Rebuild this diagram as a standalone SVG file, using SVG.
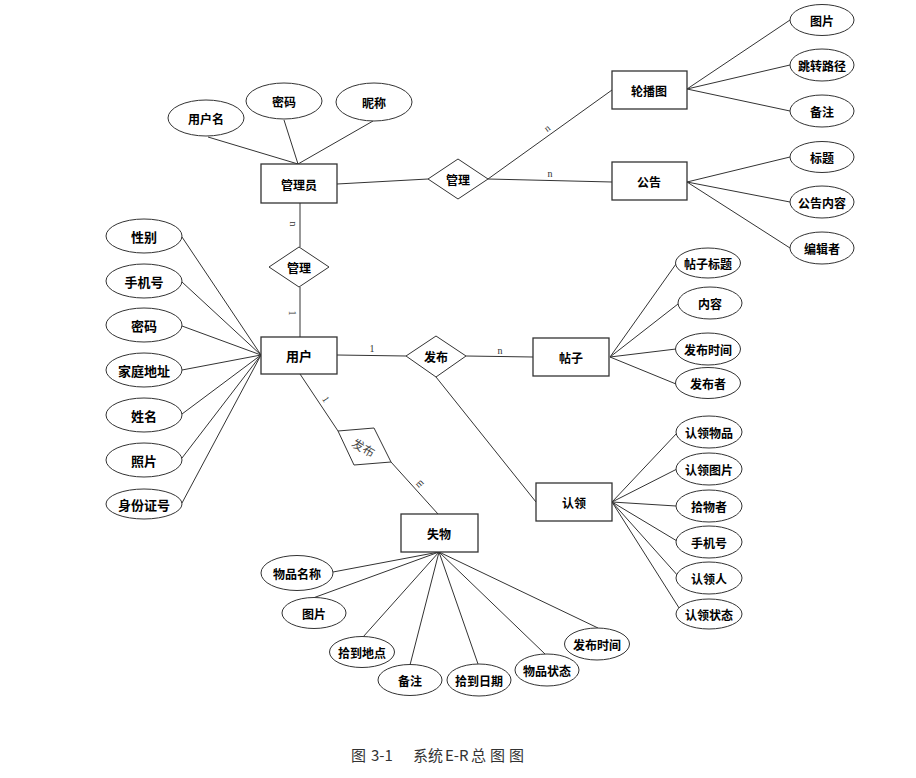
<svg xmlns="http://www.w3.org/2000/svg" width="916" height="778" viewBox="0 0 916 778">
<style>
.bg{fill:#fff}
.ln{stroke:#333;stroke-width:1;fill:none}
.ent{fill:#fff;stroke:#333;stroke-width:1.3}
.att{fill:#fff;stroke:#333;stroke-width:1}
.rel{fill:#fff;stroke:#333;stroke-width:1}
.t{font-family:"Noto Sans CJK SC","Noto Sans",sans-serif;font-weight:bold;font-size:12px;fill:#000;text-anchor:middle;dominant-baseline:central}
.tl{font-size:13px}
.card{font-family:"Liberation Serif",serif;font-size:10px;fill:#333;text-anchor:middle;dominant-baseline:central}
.rt{font-family:"Noto Sans CJK SC",sans-serif;font-size:12px;fill:#444;text-anchor:middle;dominant-baseline:central}
.cap{font-family:"Noto Sans CJK SC","Liberation Sans",sans-serif;font-size:15px;fill:#333}
</style>
<rect class="bg" x="0" y="0" width="916" height="778"/>
<g id="connectors">
<line class="ln" x1="208" y1="137" x2="298" y2="164"/>
<line class="ln" x1="284" y1="120" x2="298" y2="164"/>
<line class="ln" x1="373" y1="121" x2="298" y2="164"/>
<line class="ln" x1="337" y1="184" x2="428" y2="179"/>
<line class="ln" x1="488" y1="179" x2="612" y2="90"/>
<line class="ln" x1="488" y1="179" x2="612" y2="182"/>
<line class="ln" x1="687" y1="89" x2="790" y2="20"/>
<line class="ln" x1="687" y1="89" x2="790" y2="65"/>
<line class="ln" x1="687" y1="89" x2="790" y2="111"/>
<line class="ln" x1="687" y1="182" x2="790" y2="157"/>
<line class="ln" x1="687" y1="182" x2="790" y2="202"/>
<line class="ln" x1="687" y1="182" x2="790" y2="248"/>
<line class="ln" x1="300" y1="203" x2="300" y2="247"/>
<line class="ln" x1="300" y1="287" x2="300" y2="337"/>
<line class="ln" x1="182" y1="237" x2="261" y2="355"/>
<line class="ln" x1="182" y1="282" x2="261" y2="355"/>
<line class="ln" x1="182" y1="326" x2="261" y2="355"/>
<line class="ln" x1="182" y1="370" x2="261" y2="355"/>
<line class="ln" x1="182" y1="414" x2="261" y2="355"/>
<line class="ln" x1="182" y1="458" x2="261" y2="355"/>
<line class="ln" x1="182" y1="503" x2="261" y2="355"/>
<line class="ln" x1="337" y1="355" x2="406" y2="356"/>
<line class="ln" x1="466" y1="356" x2="533" y2="357"/>
<line class="ln" x1="610" y1="357" x2="676" y2="264"/>
<line class="ln" x1="610" y1="357" x2="678" y2="304"/>
<line class="ln" x1="610" y1="357" x2="676" y2="349"/>
<line class="ln" x1="610" y1="357" x2="676" y2="384"/>
<line class="ln" x1="436" y1="377" x2="536" y2="502"/>
<line class="ln" x1="612" y1="502" x2="677" y2="433"/>
<line class="ln" x1="612" y1="502" x2="677" y2="469"/>
<line class="ln" x1="612" y1="502" x2="676" y2="506"/>
<line class="ln" x1="612" y1="502" x2="677" y2="541"/>
<line class="ln" x1="612" y1="502" x2="679" y2="577"/>
<line class="ln" x1="612" y1="502" x2="681" y2="611"/>
<line class="ln" x1="300" y1="374" x2="338" y2="431"/>
<line class="ln" x1="391" y1="462" x2="438" y2="514"/>
<line class="ln" x1="439" y1="552" x2="333" y2="572"/>
<line class="ln" x1="439" y1="552" x2="313" y2="598"/>
<line class="ln" x1="439" y1="552" x2="363" y2="637"/>
<line class="ln" x1="439" y1="552" x2="410" y2="665"/>
<line class="ln" x1="439" y1="552" x2="478" y2="664"/>
<line class="ln" x1="439" y1="552" x2="545" y2="654"/>
<line class="ln" x1="439" y1="552" x2="598" y2="628"/>
<text class="card" transform="translate(293,224) rotate(90)">n</text>
<text class="card" transform="translate(292,313) rotate(90)">1</text>
<text class="card" transform="translate(547,128) rotate(-36)">n</text>
<text class="card" x="550" y="173">n</text>
<text class="card" x="372" y="348">1</text>
<text class="card" x="500" y="350">n</text>
<text class="card" transform="translate(326,399) rotate(56)">1</text>
<text class="card" transform="translate(419,483) rotate(-42)">m</text>
</g>
<g id="admin"><rect class="ent" x="261" y="164" width="76" height="39"/><text class="t" x="299" y="184">管理员</text></g>
<g id="admin-username"><ellipse class="att" cx="206" cy="118" rx="38" ry="18"/><text class="t" x="206" y="118">用户名</text></g>
<g id="admin-password"><ellipse class="att" cx="284" cy="101" rx="38" ry="18"/><text class="t" x="284" y="101">密码</text></g>
<g id="admin-nickname"><ellipse class="att" cx="374" cy="102" rx="38" ry="19"/><text class="t" x="374" y="102">昵称</text></g>
<g id="manage-top"><polygon class="rel" points="428,179 458,159 488,179 458,199"/><text class="t" x="458" y="179">管理</text></g>
<g id="manage-mid"><polygon class="rel" points="269,267 299,247 329,267 299,287"/><text class="t" x="299" y="267">管理</text></g>
<g id="carousel"><rect class="ent" x="612" y="71" width="75" height="38"/><text class="t" x="649" y="90">轮播图</text></g>
<g id="carousel-img"><ellipse class="att" cx="822" cy="20" rx="32" ry="15.5"/><text class="t" x="822" y="20">图片</text></g>
<g id="carousel-path"><ellipse class="att" cx="822" cy="65" rx="32" ry="16"/><text class="t" x="822" y="65">跳转路径</text></g>
<g id="carousel-note"><ellipse class="att" cx="822" cy="111" rx="32" ry="16"/><text class="t" x="822" y="111">备注</text></g>
<g id="notice"><rect class="ent" x="612" y="162" width="75" height="38"/><text class="t" x="649" y="181">公告</text></g>
<g id="notice-title"><ellipse class="att" cx="822" cy="157" rx="32" ry="15.5"/><text class="t" x="822" y="157">标题</text></g>
<g id="notice-content"><ellipse class="att" cx="822" cy="202" rx="32" ry="16"/><text class="t" x="822" y="202">公告内容</text></g>
<g id="notice-editor"><ellipse class="att" cx="822" cy="248" rx="32" ry="16"/><text class="t" x="822" y="248">编辑者</text></g>
<g id="user"><rect class="ent" x="261" y="337" width="76" height="37"/><text class="t tl" x="299" y="355">用户</text></g>
<g id="user-gender"><ellipse class="att" cx="144" cy="236" rx="38" ry="17"/><text class="t tl" x="144" y="236">性别</text></g>
<g id="user-phone"><ellipse class="att" cx="144" cy="281" rx="38" ry="17"/><text class="t tl" x="144" y="281">手机号</text></g>
<g id="user-password"><ellipse class="att" cx="144" cy="325" rx="38" ry="17"/><text class="t tl" x="144" y="325">密码</text></g>
<g id="user-address"><ellipse class="att" cx="144" cy="370" rx="38" ry="17"/><text class="t tl" x="144" y="370">家庭地址</text></g>
<g id="user-name"><ellipse class="att" cx="144" cy="415" rx="38" ry="17"/><text class="t tl" x="144" y="415">姓名</text></g>
<g id="user-photo"><ellipse class="att" cx="144" cy="460" rx="38" ry="17"/><text class="t tl" x="144" y="460">照片</text></g>
<g id="user-idcard"><ellipse class="att" cx="144" cy="504" rx="38" ry="15"/><text class="t tl" x="144" y="504">身份证号</text></g>
<g id="publish"><polygon class="rel" points="406,356 436,336 466,356 436,377"/><text class="t" x="436" y="356">发布</text></g>
<g id="post"><rect class="ent" x="533" y="338" width="76" height="38"/><text class="t" x="571" y="357">帖子</text></g>
<g id="post-title"><ellipse class="att" cx="708" cy="263" rx="32.5" ry="15"/><text class="t" x="708" y="263">帖子标题</text></g>
<g id="post-content"><ellipse class="att" cx="710" cy="303" rx="32" ry="16"/><text class="t" x="710" y="303">内容</text></g>
<g id="post-time"><ellipse class="att" cx="708" cy="349" rx="32.5" ry="16"/><text class="t" x="708" y="349">发布时间</text></g>
<g id="post-author"><ellipse class="att" cx="708" cy="383" rx="32.5" ry="15.5"/><text class="t" x="708" y="383">发布者</text></g>
<g id="claim"><rect class="ent" x="536" y="483" width="76" height="38"/><text class="t" x="574" y="502">认领</text></g>
<g id="claim-item"><ellipse class="att" cx="709" cy="432" rx="33" ry="16"/><text class="t" x="709" y="432">认领物品</text></g>
<g id="claim-img"><ellipse class="att" cx="709" cy="469" rx="33" ry="16"/><text class="t" x="709" y="469">认领图片</text></g>
<g id="claim-finder"><ellipse class="att" cx="709" cy="506" rx="33" ry="16"/><text class="t" x="709" y="506">拾物者</text></g>
<g id="claim-phone"><ellipse class="att" cx="709" cy="542" rx="33" ry="16"/><text class="t" x="709" y="542">手机号</text></g>
<g id="claim-person"><ellipse class="att" cx="709" cy="578" rx="33" ry="16"/><text class="t" x="709" y="578">认领人</text></g>
<g id="claim-status"><ellipse class="att" cx="709" cy="614" rx="33" ry="15"/><text class="t" x="709" y="614">认领状态</text></g>
<g id="publish-lost"><polygon class="rel" points="338,431 374,428 391,462 354,465"/><text class="rt" transform="translate(364,447) rotate(30)">发布</text></g>
<g id="lost"><rect class="ent" x="401" y="514" width="77" height="38"/><text class="t" x="439" y="533">失物</text></g>
<g id="lost-name"><ellipse class="att" cx="297" cy="573" rx="36" ry="17.5"/><text class="t" x="297" y="573">物品名称</text></g>
<g id="lost-img"><ellipse class="att" cx="314" cy="613" rx="32" ry="15.5"/><text class="t" x="314" y="613">图片</text></g>
<g id="lost-place"><ellipse class="att" cx="362" cy="652" rx="32.5" ry="15.5"/><text class="t" x="362" y="652">拾到地点</text></g>
<g id="lost-note"><ellipse class="att" cx="410" cy="680" rx="32" ry="15.5"/><text class="t" x="410" y="680">备注</text></g>
<g id="lost-date"><ellipse class="att" cx="479" cy="680" rx="32" ry="16"/><text class="t" x="479" y="680">拾到日期</text></g>
<g id="lost-status"><ellipse class="att" cx="547" cy="670" rx="32" ry="16"/><text class="t" x="547" y="670">物品状态</text></g>
<g id="lost-time"><ellipse class="att" cx="597" cy="644" rx="32.5" ry="16"/><text class="t" x="597" y="644">发布时间</text></g>
<g id="caption"><text class="cap" y="761"><tspan x="351">图</tspan><tspan x="371">3-1</tspan><tspan x="413">系统</tspan><tspan x="445">E-R</tspan><tspan x="471" letter-spacing="4">总图图</tspan></text></g>
</svg>
